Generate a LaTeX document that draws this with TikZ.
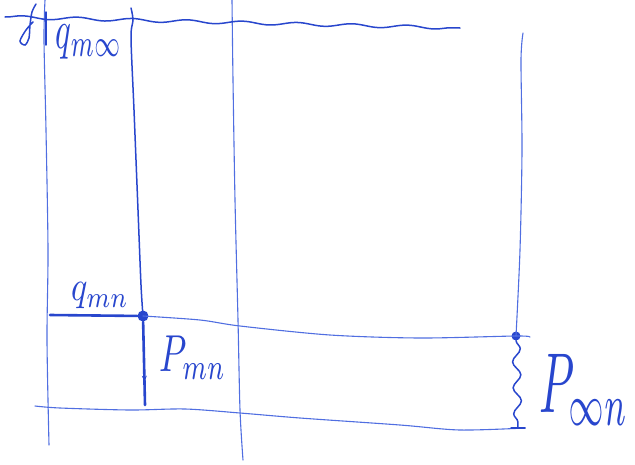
\documentclass[tikz,border=0pt]{standalone}
\usetikzlibrary{decorations.pathmorphing,decorations.markings,arrows.meta}
\definecolor{ink}{RGB}{40,70,205}
\definecolor{inkl}{RGB}{80,110,225}
\tikzset{
  thin line/.style={draw=inkl, line width=1.1pt, line cap=round},
  mid line/.style={draw=ink, line width=1.5pt, line cap=round},
  thick line/.style={draw=ink, line width=2.6pt, line cap=round},
  inkdot/.style={circle, fill=ink, inner sep=0pt},
  lbl/.style={text=ink, inner sep=0pt},
  wavy/.style={decorate, decoration={snake, amplitude=1.6pt, segment length=55pt}},
}
\begin{document}
\begin{tikzpicture}[x=1pt,y=-1pt]
\useasboundingbox (0,0) rectangle (635,464);
% nodes
\node[inkdot, minimum size=11pt] (d1) at (143,316) {};
\node[inkdot, minimum size=9pt] (d2) at (516,336) {};
\coordinate (tl) at (5,17);
\coordinate (tr) at (460,28);
\coordinate (ql) at (50,315);
\coordinate (pe) at (145,405);
\coordinate (pie) at (518,428);
% vertical grid lines
\draw[thin line] plot[smooth] coordinates {(45,0) (44,40) (46,130) (48,250) (47,340) (49,445)};
\draw[mid line] plot[smooth] coordinates {(131,8) (133,20) (131,38) (134,110) (138,210) (141,285) (143,316)};
\draw[thin line] plot[smooth] coordinates {(232,0) (233,80) (235,200) (238,320) (240,410) (243,460)};
\draw[thin line] plot[smooth] coordinates {(523,33) (521,60) (522,150) (520,250) (516,336)};
% top wavy boundary
\draw[mid line, wavy] (tl) -- (tr);
% middle horizontal line
\draw[thin line] plot[smooth] coordinates {(143,316) (200,320) (240,326) (330,335) (420,338) (516,336) (530,337)};
% bottom line
\draw[thin line] plot[smooth] coordinates {(35,406) (60,408) (130,410) (185,409) (240,413) (300,418) (400,425) (460,430) (525,428)};
% q_mn thick line
\draw[thick line] (ql) -- (d1);
% P_mn arrow
\draw[thick line, postaction={decorate}, decoration={markings, mark=at position 0.72 with {\arrow[ink]{Stealth[length=6pt,width=5pt]}}}] (d1) -- (pe);
% P_infty n wavy line
\draw[mid line, decorate, decoration={snake, amplitude=4pt, segment length=26pt}] (d2) -- (pie);
\draw[mid line] (511,428) -- (525,428);
% top-left squiggle
\draw[mid line] plot[smooth] coordinates {(36,4) (32,12) (30,25) (29,38) (25,45) (20,41) (26,30) (33,22)};
\draw[mid line] (46,12) -- (46,45);
% labels
\node[lbl, xscale=3.3, yscale=5.5] (qmi) at (89,42) {$q_{m\infty}$};
\node[lbl, xscale=3.4, yscale=4.2] (qmn) at (100,296) {$q_{mn}$};
\node[lbl, xscale=3.5, yscale=5.2] (pmn) at (193,358) {$P_{mn}$};
\node[lbl, xscale=4.5, yscale=8.5] (pin) at (584,390) {$P_{\infty n}$};
\end{tikzpicture}
\end{document}
